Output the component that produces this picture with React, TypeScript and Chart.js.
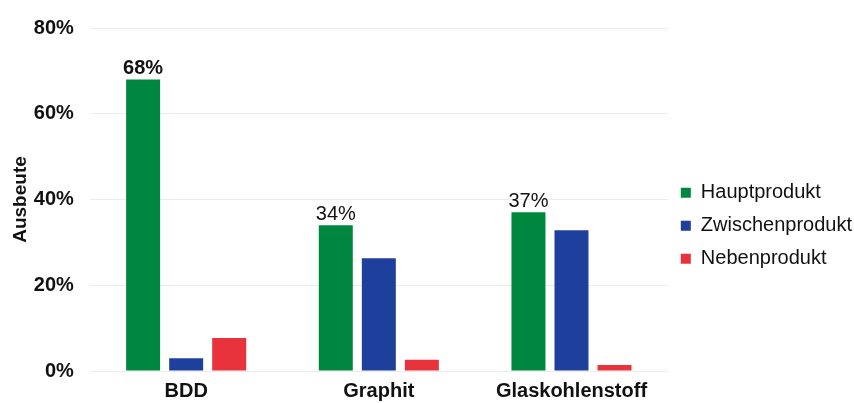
import React, { useEffect, useRef } from "react";
import { Chart, registerables } from "chart.js";

Chart.register(...registerables);

const categories = ["BDD", "Graphit", "Glaskohlenstoff"];
const seriesNames = ["Hauptprodukt", "Zwischenprodukt", "Nebenprodukt"];
const hauptprodukt = [68, 34, 37];
const zwischenprodukt = [3, 26.3, 32.8];
const nebenprodukt = [7.7, 2.6, 1.4];
const hauptLabels = ["68%", "34%", "37%"];
const hauptLabelBold = [true, false, false];
const yTicks = [0, 20, 40, 60, 80];

const colors = ["#00873f", "#1f3f9c", "#e8333c"];
const FONT = "'Liberation Sans', Arial, sans-serif";

const labelPlugin = {
  id: "barLabels",
  afterDatasetsDraw(chart: any) {
    const ctx = chart.ctx;
    const meta = chart.getDatasetMeta(0);
    ctx.save();
    ctx.fillStyle = "#111";
    ctx.textAlign = "center";
    ctx.textBaseline = "bottom";
    meta.data.forEach((el: any, i: number) => {
      ctx.font = `${hauptLabelBold[i] ? "bold " : ""}20px ${FONT}`;
      ctx.fillText(hauptLabels[i], el.x, el.y - 1);
    });
    ctx.restore();
  },
};

export default function App() {
  const ref = useRef<HTMLCanvasElement | null>(null);
  useEffect(() => {
    document.body.style.margin = "0";
    const values = [hauptprodukt, zwischenprodukt, nebenprodukt];
    const chart = new Chart(ref.current!, {
      type: "bar",
      data: {
        labels: categories,
        datasets: seriesNames.map((name, i) => ({
          label: name,
          data: values[i],
          backgroundColor: colors[i],
          borderWidth: 0,
          barPercentage: 0.79,
          categoryPercentage: 0.67,
        })),
      },
      options: {
        animation: false,
        responsive: true,
        maintainAspectRatio: false,
        layout: { padding: { top: 10, right: -8, left: 0, bottom: 0 } },
        plugins: {
          tooltip: { enabled: false },
          legend: {
            position: "right",
            title: { display: true, text: "", padding: { top: 24, bottom: 0 }, font: { size: 12 } },
            labels: {
              boxWidth: 10,
              boxHeight: 10,
              padding: 13,
              color: "#111",
              font: { family: FONT, size: 20 },
            },
          },
        },
        scales: {
          x: {
            grid: { display: false },
            border: { display: false },
            ticks: { color: "#111", font: { family: FONT, size: 20, weight: "bold" }, padding: 0 },
          },
          y: {
            min: 0,
            max: 80,
            afterBuildTicks: (axis: any) => {
              axis.ticks = yTicks.map((v) => ({ value: v }));
            },
            grid: { color: "#ececec", drawTicks: false },
            border: { display: false },
            ticks: {
              color: "#111",
              padding: 16,
              font: { family: FONT, size: 20, weight: "bold" },
              callback: (v: any) => v + "%",
            },
            title: {
              display: true,
              text: "Ausbeute",
              color: "#111",
              font: { family: FONT, size: 19, weight: "bold" },
              padding: { top: 9, bottom: -14 },
            },
          },
        },
      },
      plugins: [labelPlugin],
    });
    return () => chart.destroy();
  }, []);
  return (
    <div style={{ width: 854, height: 403, position: "relative" }}>
      <canvas ref={ref} />
    </div>
  );
}
